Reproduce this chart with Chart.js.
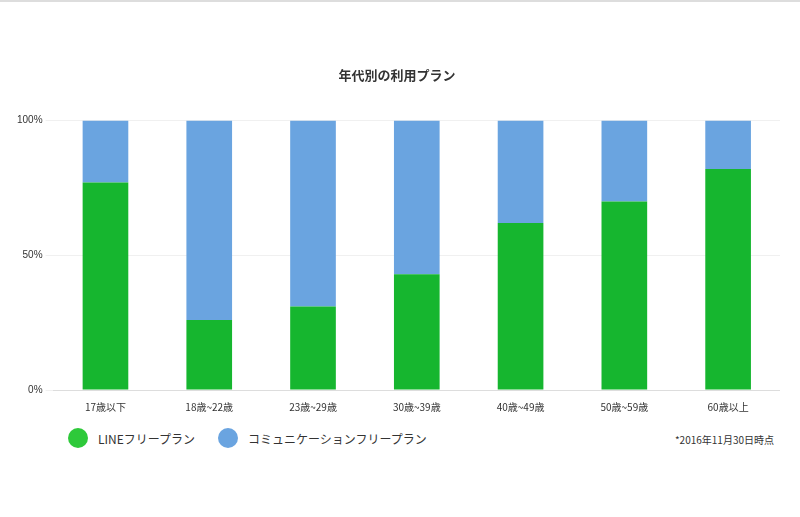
<!DOCTYPE html>
<html><head><meta charset="utf-8">
<script src="https://cdn.jsdelivr.net/npm/chart.js@4"></script>
<style>
body{margin:0;width:800px;height:517px;background:#fff;font-family:"Noto Sans CJK JP","Noto Sans",sans-serif;border-top:2px solid #ddd;box-sizing:border-box;position:relative;overflow:hidden}
#wrap{position:absolute;left:14px;top:59px;width:766px;height:355px}
.leg{position:absolute;top:426px;font-size:12px;color:#333;display:flex;align-items:center}
.dot{width:20px;height:20px;border-radius:50%;display:inline-block;margin-right:10px}
#note{position:absolute;right:26px;top:430px;font-size:10px;color:#333}
</style></head><body>
<div id="wrap"><canvas id="c"></canvas></div>
<div class="leg" style="left:68px"><span class="dot" style="background:#2ec93a"></span>LINEフリープラン</div>
<div class="leg" style="left:218px"><span class="dot" style="background:#6aa4e0"></span>コミュニケーションフリープラン</div>
<div id="note">*2016年11月30日時点</div>
<script>
const categories=["17歳以下","18歳~22歳","23歳~29歳","30歳~39歳","40歳~49歳","50歳~59歳","60歳以上"];
const lineFree=[77,26,31,43,62,70,82];
const commFree=[23,74,69,57,38,30,18];
const tickLabels={0:"0%",50:"50%",100:"100%"};
new Chart(document.getElementById('c'),{type:'bar',
data:{labels:categories,datasets:[
{label:"LINEフリープラン",data:lineFree,backgroundColor:"#16b62f"},
{label:"コミュニケーションフリープラン",data:commFree,backgroundColor:"#6aa4e0"}]},
options:{responsive:true,maintainAspectRatio:false,animation:false,
layout:{padding:{top:0,right:0}},
datasets:{bar:{barPercentage:0.44,categoryPercentage:1}},
plugins:{legend:{display:false},tooltip:{enabled:false},
title:{display:true,text:"年代別の利用プラン",color:"#333",font:{size:13,weight:'bold',family:"Noto Sans CJK JP"},padding:{top:6,bottom:38}}},
scales:{x:{stacked:true,grid:{display:false},border:{color:'#ddd'},ticks:{color:'#333',font:{size:10,family:"Noto Sans CJK JP"}}},
y:{stacked:true,min:0,max:100,border:{display:false},grid:{color:'#f0f0f0'},
ticks:{stepSize:50,color:'#333',font:{size:10},callback:v=>tickLabels[v]||""}}}}});
</script></body></html>
